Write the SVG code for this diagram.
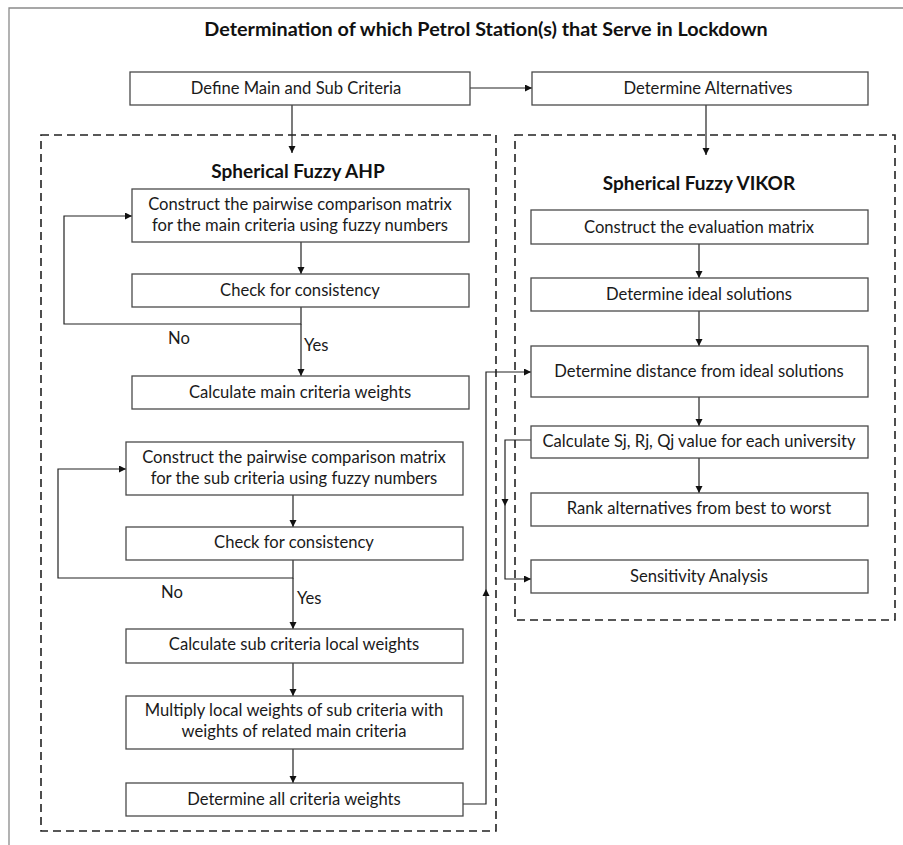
<svg xmlns="http://www.w3.org/2000/svg" width="903" height="845" viewBox="0 0 903 845">
<style>
.bx{fill:#fff;stroke:#4a4a4a;stroke-width:1.3}
.dash{fill:none;stroke:#222;stroke-width:1.6;stroke-dasharray:8 5}
.ln{fill:none;stroke:#222;stroke-width:1.2}
.t{font-family:Lato,"Liberation Sans",sans-serif;font-size:16.6px;fill:#1a1a1a;text-anchor:middle}
.h{font-family:Lato,"Liberation Sans",sans-serif;font-size:19px;font-weight:bold;fill:#111;text-anchor:middle}
.ti{font-family:Lato,"Liberation Sans",sans-serif;font-size:19.8px;font-weight:bold;fill:#111;text-anchor:middle}
.lb{font-family:Lato,"Liberation Sans",sans-serif;font-size:16.6px;fill:#1a1a1a}
.ah{fill:#111}
</style>
<defs>
<marker id="arr" markerUnits="userSpaceOnUse" markerWidth="8" markerHeight="8" refX="7" refY="3.5" orient="auto">
<path d="M0,0 L7,3.5 L0,7 Z" fill="#111"/>
</marker>
</defs>
<rect width="903" height="845" fill="#fff"/>
<path d="M9,845 V8 H903" fill="none" stroke="#8a8a8a" stroke-width="1.3"/>
<text class="ti" x="486" y="36">Determination of which Petrol Station(s) that Serve in Lockdown</text>

<g id="ahp-frame">
<rect class="dash" x="41" y="135" width="455" height="696"/>
<text class="h" x="298" y="178">Spherical Fuzzy AHP</text>
</g>
<g id="vikor-frame">
<rect class="dash" x="515" y="135" width="380" height="485"/>
<text class="h" x="699" y="190">Spherical Fuzzy VIKOR</text>
</g>

<g id="connectors">
<path class="ln" d="M470,88 H532" marker-end="url(#arr)"/>
<path class="ln" d="M292,105 V153" marker-end="url(#arr)"/>
<path class="ln" d="M706,105 V155" marker-end="url(#arr)"/>
<path class="ln" d="M301,242 V274" marker-end="url(#arr)"/>
<path class="ln" d="M301,307 V324 H64 V216 H132" marker-end="url(#arr)"/>
<path class="ln" d="M301,324 V376" marker-end="url(#arr)"/>
<path class="ln" d="M293,495 V527" marker-end="url(#arr)"/>
<path class="ln" d="M293,560 V578 H58 V469 H126" marker-end="url(#arr)"/>
<path class="ln" d="M293,578 V629" marker-end="url(#arr)"/>
<path class="ln" d="M293,663 V696" marker-end="url(#arr)"/>
<path class="ln" d="M293,749 V783" marker-end="url(#arr)"/>
<path class="ln" d="M463,804 H486 V372 H531" marker-end="url(#arr)"/>
<path class="ah" d="M486,589 L482.5,596 L489.5,596 Z"/>
<path class="ln" d="M699,244 V278" marker-end="url(#arr)"/>
<path class="ln" d="M699,311 V346" marker-end="url(#arr)"/>
<path class="ln" d="M699,397 V426" marker-end="url(#arr)"/>
<path class="ln" d="M699,458 V493" marker-end="url(#arr)"/>
<path class="ln" d="M531,440 H505 V579 H531" marker-end="url(#arr)"/>
<path class="ah" d="M505,506 L501.5,499 L508.5,499 Z"/>
<text class="lb" x="168" y="344">No</text>
<text class="lb" x="304" y="351">Yes</text>
<text class="lb" x="161" y="598">No</text>
<text class="lb" x="297" y="604">Yes</text>
</g>

<g id="define">
<rect class="bx" x="130" y="72" width="340" height="33"/>
<text class="t" x="296" y="94">Define Main and Sub Criteria</text>
</g>
<g id="alternatives">
<rect class="bx" x="532" y="72" width="336" height="33"/>
<text class="t" x="708" y="94">Determine Alternatives</text>
</g>

<g id="construct-main">
<rect class="bx" x="132" y="189" width="337" height="53"/>
<text class="t" x="300" y="210">Construct the pairwise comparison matrix</text>
<text class="t" x="300" y="231">for the main criteria using fuzzy numbers</text>
</g>
<g id="check-main">
<rect class="bx" x="132" y="274" width="337" height="33"/>
<text class="t" x="300" y="296">Check for consistency</text>
</g>
<g id="calc-main">
<rect class="bx" x="132" y="376" width="337" height="33"/>
<text class="t" x="300" y="398">Calculate main criteria weights</text>
</g>
<g id="construct-sub">
<rect class="bx" x="126" y="442" width="337" height="53"/>
<text class="t" x="294" y="463">Construct the pairwise comparison matrix</text>
<text class="t" x="294" y="484">for the sub criteria using fuzzy numbers</text>
</g>
<g id="check-sub">
<rect class="bx" x="126" y="527" width="337" height="33"/>
<text class="t" x="294" y="548">Check for consistency</text>
</g>
<g id="calc-sub">
<rect class="bx" x="126" y="629" width="337" height="34"/>
<text class="t" x="294" y="650">Calculate sub criteria local weights</text>
</g>
<g id="multiply">
<rect class="bx" x="126" y="696" width="337" height="53"/>
<text class="t" x="294" y="716">Multiply local weights of sub criteria with</text>
<text class="t" x="294" y="737">weights of related main criteria</text>
</g>
<g id="all-weights">
<rect class="bx" x="126" y="783" width="337" height="33"/>
<text class="t" x="294" y="805">Determine all criteria weights</text>
</g>

<g id="eval-matrix">
<rect class="bx" x="531" y="210" width="337" height="34"/>
<text class="t" x="699" y="233">Construct the evaluation matrix</text>
</g>
<g id="ideal">
<rect class="bx" x="531" y="278" width="337" height="33"/>
<text class="t" x="699" y="300">Determine ideal solutions</text>
</g>
<g id="distance">
<rect class="bx" x="531" y="346" width="337" height="51"/>
<text class="t" x="699" y="377">Determine distance from ideal solutions</text>
</g>
<g id="sjrjqj">
<rect class="bx" x="531" y="426" width="337" height="32"/>
<text class="t" x="699" y="447">Calculate Sj, Rj, Qj value for each university</text>
</g>
<g id="rank">
<rect class="bx" x="531" y="493" width="337" height="33"/>
<text class="t" x="699" y="514">Rank alternatives from best to worst</text>
</g>
<g id="sensitivity">
<rect class="bx" x="531" y="560" width="337" height="33"/>
<text class="t" x="699" y="582">Sensitivity Analysis</text>
</g>
</svg>
